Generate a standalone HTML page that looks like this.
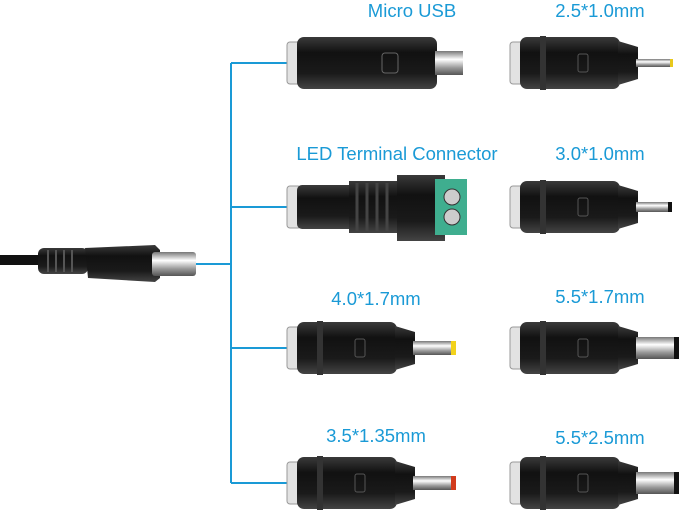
<!DOCTYPE html>
<html><head><meta charset="utf-8"><style>
body{margin:0;background:#fff}
svg{display:block}
text{font-family:"Liberation Sans",sans-serif;font-size:18.5px;fill:#1a9ad6}
</style></head><body>
<svg width="679" height="520" viewBox="0 0 679 520">
<defs>
<linearGradient id="bg" x1="0" y1="0" x2="0" y2="1">
<stop offset="0" stop-color="#3a3a3a"/><stop offset=".3" stop-color="#111"/><stop offset=".7" stop-color="#1a1a1a"/><stop offset="1" stop-color="#444"/></linearGradient>
<linearGradient id="mt" x1="0" y1="0" x2="0" y2="1">
<stop offset="0" stop-color="#777"/><stop offset=".35" stop-color="#fff"/><stop offset=".7" stop-color="#999"/><stop offset="1" stop-color="#555"/></linearGradient>
<g id="ad">
<rect x="0" y="-21" width="14" height="42" rx="3" fill="#e2e2e2" stroke="#999"/>
<rect x="10" y="-26" width="100" height="52" rx="7" fill="url(#bg)"/>
<rect x="30" y="-27" width="6" height="54" fill="#333"/>
<path d="M108 -22 L128 -16 L128 16 L108 22Z" fill="url(#bg)"/>
<rect x="68" y="-9" width="10" height="18" rx="2" fill="none" stroke="#555"/>
</g>
</defs>
<g stroke="#1a9ad6" stroke-width="2" fill="none">
<path d="M231 63 V483 M231 63 H287 M231 207 H287 M231 348 H287 M231 483 H287 M196 264 H231"/>
</g>
<rect x="0" y="255" width="45" height="10" fill="#111"/>
<rect x="38" y="248" width="50" height="26" rx="6" fill="url(#bg)"/>
<g stroke="#555" stroke-width="2"><path d="M48 250V272M56 250V272M64 250V272M72 250V272"/></g>
<path d="M85 248 L155 245 L160 250 L160 278 L155 282 L88 278Z" fill="url(#bg)"/>
<rect x="152" y="252" width="44" height="24" rx="3" fill="url(#mt)"/>
<text x="412" y="17" text-anchor="middle">Micro USB</text>
<text x="600" y="17" text-anchor="middle">2.5*1.0mm</text>
<text x="397" y="160" text-anchor="middle">LED Terminal Connector</text>
<text x="600" y="160" text-anchor="middle">3.0*1.0mm</text>
<text x="376" y="305" text-anchor="middle">4.0*1.7mm</text>
<text x="600" y="303" text-anchor="middle">5.5*1.7mm</text>
<text x="376" y="442" text-anchor="middle">3.5*1.35mm</text>
<text x="600" y="444" text-anchor="middle">5.5*2.5mm</text>
<g transform="translate(287,63)">
<rect x="0" y="-21" width="14" height="42" rx="3" fill="#e2e2e2" stroke="#999"/>
<rect x="10" y="-26" width="140" height="52" rx="7" fill="url(#bg)"/>
<rect x="95" y="-10" width="16" height="20" rx="3" fill="none" stroke="#666"/>
<rect x="148" y="-12" width="28" height="24" fill="url(#mt)"/>
</g>
<g transform="translate(287,207)">
<rect x="0" y="-21" width="14" height="42" rx="3" fill="#e2e2e2" stroke="#999"/>
<rect x="10" y="-22" width="60" height="44" rx="5" fill="url(#bg)"/>
<rect x="62" y="-26" width="50" height="52" fill="url(#bg)"/>
<g stroke="#444" stroke-width="3"><path d="M70 -24V24M80 -24V24M90 -24V24M100 -24V24"/></g>
<rect x="110" y="-32" width="48" height="66" fill="url(#bg)"/>
<rect x="148" y="-28" width="32" height="56" fill="#3fae8f"/>
<circle cx="165" cy="-10" r="8" fill="#ccc" stroke="#333"/><circle cx="165" cy="10" r="8" fill="#ccc" stroke="#333"/>
</g>
<g transform="translate(287,348)"><use href="#ad"/><rect x="126" y="-7" width="40" height="14" fill="url(#mt)"/><rect x="164" y="-7" width="5" height="14" fill="#f2d21c"/></g>
<g transform="translate(287,483)"><use href="#ad"/><rect x="126" y="-7" width="40" height="14" fill="url(#mt)"/><rect x="164" y="-7" width="5" height="14" fill="#d23b1c"/></g>
<g transform="translate(510,63)"><use href="#ad"/><rect x="126" y="-4" width="36" height="8" fill="url(#mt)"/><rect x="160" y="-4" width="3" height="8" fill="#e8c81c"/></g>
<g transform="translate(510,207)"><use href="#ad"/><rect x="126" y="-5" width="34" height="10" fill="url(#mt)"/><rect x="158" y="-5" width="4" height="10" fill="#111"/></g>
<g transform="translate(510,348)"><use href="#ad"/><rect x="126" y="-11" width="40" height="22" fill="url(#mt)"/><rect x="164" y="-11" width="5" height="22" fill="#111"/></g>
<g transform="translate(510,483)"><use href="#ad"/><rect x="126" y="-11" width="40" height="22" fill="url(#mt)"/><rect x="164" y="-11" width="5" height="22" fill="#111"/></g>
</svg>
</body></html>
